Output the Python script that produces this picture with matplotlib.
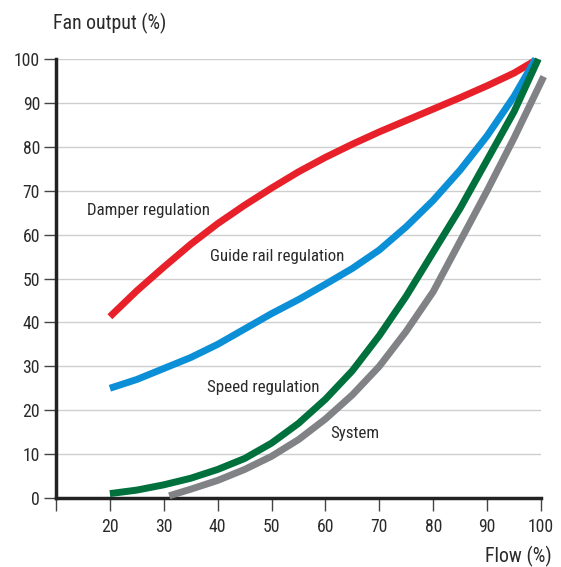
import matplotlib
matplotlib.use("Agg")
import matplotlib.pyplot as plt
from matplotlib import font_manager

# Datos (x = caudal %, y = potencia %)
damper_x = [20, 25, 30, 35, 40, 45, 50, 55, 60, 65, 70, 75, 80, 85, 90, 95, 99]
damper_y = [41.3, 47.2, 52.6, 57.8, 62.5, 66.7, 70.6, 74.3, 77.6, 80.6, 83.4, 86, 88.6, 91.2, 93.9, 96.8, 99.7]

guide_x = [20, 25, 30, 35, 40, 45, 50, 55, 60, 65, 70, 75, 80, 85, 90, 95, 99]
guide_y = [25, 27, 29.5, 32, 35, 38.5, 42, 45.2, 48.7, 52.3, 56.5, 61.8, 67.8, 74.7, 82.5, 91.5, 100]

speed_x = [20, 25, 30, 35, 40, 45, 50, 55, 60, 65, 70, 75, 80, 85, 90, 95, 99.5]
speed_y = [1, 1.8, 3, 4.5, 6.5, 9, 12.5, 17, 22.5, 29, 37, 46, 56, 66, 77, 88, 100]

system_x = [31, 35, 40, 45, 50, 55, 60, 65, 70, 75, 80, 85, 90, 95, 100.5]
system_y = [0.5, 2, 4, 6.5, 9.5, 13.3, 18, 23.5, 30, 38, 47, 58.5, 70, 82, 96]

x_ticks = [10, 20, 30, 40, 50, 60, 70, 80, 90, 100]
x_labels = ["", "20", "30", "40", "50", "60", "70", "80", "90", "100"]
y_ticks = [0, 10, 20, 30, 40, 50, 60, 70, 80, 90, 100]

TXT = "#2a2a2a"

fam = "DejaVu Sans"
for cand in ["DejaVu Sans Condensed", "Liberation Sans Narrow", "Roboto Condensed", "Arial Narrow", "Roboto"]:
    try:
        font_manager.findfont(cand, fallback_to_default=False)
        fam = cand
        break
    except Exception:
        pass
plt.rcParams["font.family"] = [fam, "DejaVu Sans"]

fig = plt.figure(figsize=(5.61, 5.67), dpi=100)
ax = fig.add_axes([56 / 561, 1 - 498 / 567, (541 - 56) / 561, (498 - 59) / 567])
ax.set_xlim(10, 100)
ax.set_ylim(0, 100)

for y in y_ticks[1:]:
    ax.axhline(y, color="#cfcfcf", lw=1.0, zorder=0)

kw = dict(lw=5, solid_capstyle="butt", solid_joinstyle="round", clip_on=False)
ax.plot(damper_x, damper_y, color="#e8202a", zorder=3, **kw)
ax.plot(guide_x, guide_y, color="#0b8fd6", zorder=3, **kw)
ax.plot(system_x, system_y, color="#818286", zorder=3, **kw)
ax.plot(speed_x, speed_y, color="#00703c", zorder=4, **kw)

labels = [
    ax.text(15.8, 65.6, "Damper regulation", fontsize=11, va="center", color=TXT),
    ax.text(38.6, 55.1, "Guide rail regulation", fontsize=11, va="center", color=TXT),
    ax.text(38.0, 25.1, "Speed regulation", fontsize=11, va="center", color=TXT),
    ax.text(60.8, 14.6, "System", fontsize=11, va="center", color=TXT),
]
widths = [122, 133, 111, 49]

for s in ["top", "right"]:
    ax.spines[s].set_visible(False)
for s in ["left", "bottom"]:
    ax.spines[s].set_linewidth(2.5)
    ax.spines[s].set_color("#222222")

ax.set_xticks(x_ticks)
ax.set_xticklabels(x_labels)
ax.set_yticks(y_ticks)
ax.tick_params(axis="x", length=9, width=1, color="#444444", labelsize=13, pad=5.5, labelcolor=TXT)
ax.tick_params(axis="y", length=8.5, width=1, color="#444444", labelsize=13, pad=3, labelcolor=TXT)

t_fan = fig.text(53 / 561, 1 - 23 / 567, "Fan output (%)", fontsize=12, va="center", ha="left", color=TXT)
t_flow = fig.text(552 / 561, 1 - 556 / 567, "Flow (%)", fontsize=12, va="center", ha="right", color=TXT)

# ajustar tamaño de fuente al ancho medido en la imagen
fig.canvas.draw()
r = fig.canvas.get_renderer()
ratios = [w / t.get_window_extent(r).width for t, w in zip(labels, widths)]
fs = 11 * sum(ratios) / len(ratios)
for t in labels:
    t.set_fontsize(fs)
for t, w in [(t_fan, 113), (t_flow, 67)]:
    t.set_fontsize(t.get_fontsize() * w / t.get_window_extent(r).width)

lab100 = ax.get_yticklabels()[-1]
ts = 13 * 26 / lab100.get_window_extent(r).width
ax.tick_params(axis="both", labelsize=ts)

fig.savefig("out.png", dpi=100)
